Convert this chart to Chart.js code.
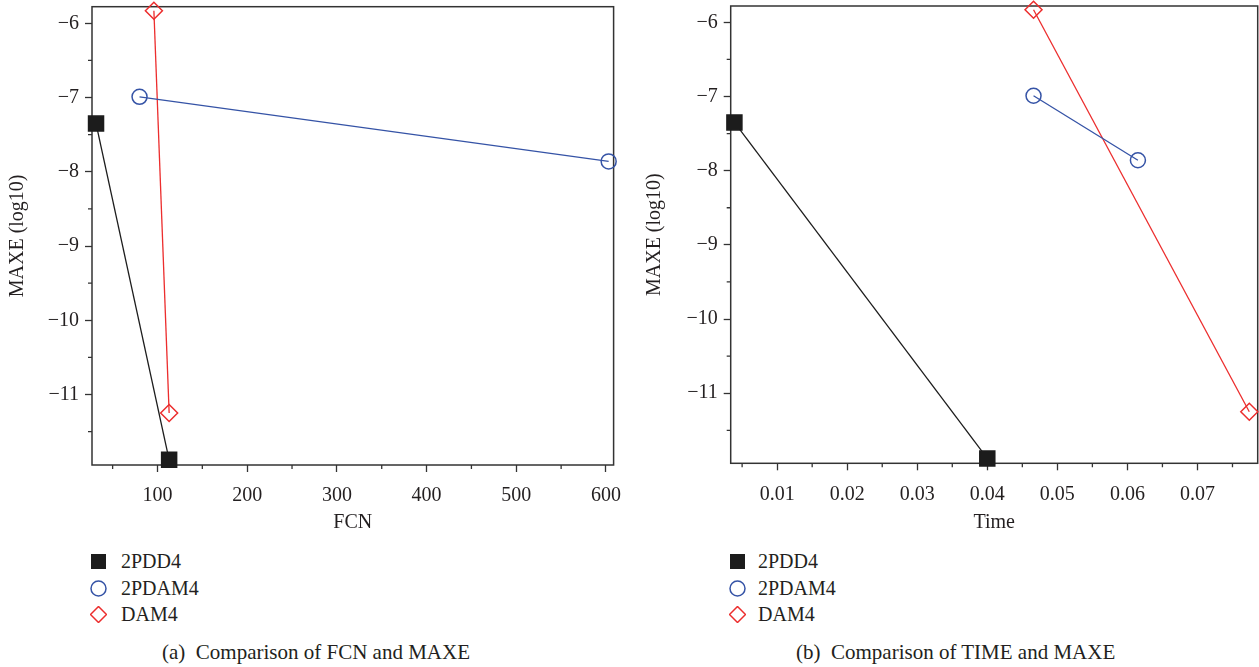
<!DOCTYPE html>
<html><head><meta charset="utf-8">
<script src="https://cdn.jsdelivr.net/npm/chart.js@4"></script>
<style>
html,body{margin:0;padding:0;background:#fff;}
body{width:1259px;height:667px;position:relative;overflow:hidden;font-family:"Liberation Serif",serif;color:#231f20;}
.cv{position:absolute;top:0;}
.legend{position:absolute;top:548px;font-size:20px;}
.legend .row{height:26.7px;display:flex;align-items:center;white-space:nowrap;}
.legend svg{flex:none;}
.caption{position:absolute;top:640px;font-size:21px;line-height:24px;white-space:pre;}
</style></head>
<body>
<div class="cv" style="left:0;width:630px;height:540px;"><canvas id="c1"></canvas></div>
<div class="cv" style="left:630px;width:629px;height:540px;"><canvas id="c2"></canvas></div>
<div class="legend" id="leg1" style="left:90px;"></div>
<div class="legend" id="leg2" style="left:729px;"></div>
<div class="caption" style="left:162px;">(a)  Comparison of FCN and MAXE</div>
<div class="caption" style="left:796px;">(b)  Comparison of TIME and MAXE</div>
<script>
// ---- data ----
const seriesNames = ['2PDD4', '2PDAM4', 'DAM4'];
const fcn2PDD4 = [31.5, 113];
const fcn2PDAM4 = [80, 603];
const fcnDAM4 = [96, 113];
const time2PDD4 = [0.0039, 0.040];
const time2PDAM4 = [0.0466, 0.0615];
const timeDAM4 = [0.0466, 0.0774];
const maxe2PDD4 = [-7.35, -11.88];
const maxe2PDAM4 = [-6.99, -7.86];
const maxeDAM4 = [-5.83, -11.25];
const yTickValues = [-11, -10, -9, -8, -7, -6];
const yTickLabels = ['\u221211', '\u221210', '\u22129', '\u22128', '\u22127', '\u22126'];
const yMinorTicks = [-11.5, -10.5, -9.5, -8.5, -7.5, -6.5];
const fcnTickValues = [100, 200, 300, 400, 500, 600];
const fcnTickLabels = ['100', '200', '300', '400', '500', '600'];
const fcnMinorTicks = [50, 150, 250, 350, 450, 550];
const timeTickValues = [0.01, 0.02, 0.03, 0.04, 0.05, 0.06, 0.07];
const timeTickLabels = ['0.01', '0.02', '0.03', '0.04', '0.05', '0.06', '0.07'];
const timeMinorTicks = [0.005, 0.015, 0.025, 0.035, 0.045, 0.055, 0.065, 0.075];

// ---- style ----
const colors = ['#1c1c1c', '#3553a6', '#ec2d2d'];
const markers = ['rect', 'circle', 'rectRot'];
const radii = [10.6, 7.5, 8.5];
const FONT = {family: '"Liberation Serif", serif', size: 20};
const TXT = '#231f20';
const AX = '#333333';

function dataset(i, xs, ys) {
  return {
    label: seriesNames[i],
    data: xs.map((x, k) => ({x: x, y: ys[k]})),
    showLine: true,
    borderColor: colors[i],
    borderWidth: 1.3,
    backgroundColor: colors[i],
    pointStyle: markers[i],
    pointRadius: radii[i],
    pointBackgroundColor: i === 0 ? colors[i] : 'rgba(0,0,0,0)',
    pointBorderColor: colors[i],
    pointBorderWidth: 1.5,
    clip: false,
    tension: 0
  };
}

const frameAndMinor = {
  id: 'frameAndMinor',
  beforeDatasetsDraw(chart, args, opts) {
    const ctx = chart.ctx, a = chart.chartArea;
    ctx.save();
    ctx.strokeStyle = AX;
    ctx.lineWidth = 1.5;
    ctx.strokeRect(a.left, a.top, a.right - a.left, a.bottom - a.top);
    ctx.lineWidth = 1.3;
    ctx.beginPath();
    (opts.x || []).forEach(v => {
      const px = chart.scales.x.getPixelForValue(v);
      ctx.moveTo(px, a.bottom); ctx.lineTo(px, a.bottom + 4);
    });
    (opts.y || []).forEach(v => {
      const py = chart.scales.y.getPixelForValue(v);
      ctx.moveTo(a.left, py); ctx.lineTo(a.left - 4, py);
    });
    ctx.stroke();
    ctx.restore();
  }
};

function makeChart(id, cfg) {
  return new Chart(document.getElementById(id), {
    type: 'scatter',
    data: {datasets: cfg.datasets},
    plugins: [frameAndMinor],
    options: {
      responsive: true,
      maintainAspectRatio: false,
      animation: false,
      events: [],
      layout: {padding: cfg.padding, autoPadding: false},
      plugins: {
        legend: {display: false},
        tooltip: {enabled: false},
        frameAndMinor: {x: cfg.xMinor, y: yMinorTicks}
      },
      scales: {
        x: {
          type: 'linear', min: cfg.xMin, max: cfg.xMax,
          afterBuildTicks: s => { s.ticks = cfg.xTicks.map(v => ({value: v})); },
          afterFit: s => { s.height = cfg.xHeight; s.paddingLeft = 0; s.paddingRight = 0; },
          ticks: {callback: (v, i) => cfg.xLabels[i], font: FONT, color: TXT, padding: 12, maxRotation: 0, autoSkip: false},
          grid: {drawOnChartArea: false, drawTicks: true, tickLength: 7, tickColor: AX, tickWidth: 1.3},
          border: {display: false},
          title: {display: true, text: cfg.xTitle, font: FONT, color: TXT, padding: {top: 4, bottom: 4}}
        },
        y: {
          type: 'linear', min: cfg.yMin, max: cfg.yMax,
          afterBuildTicks: s => { s.ticks = yTickValues.map(v => ({value: v})); },
          afterFit: s => { s.width = cfg.yWidth; s.paddingTop = 0; s.paddingBottom = 0; },
          ticks: {callback: (v, i) => yTickLabels[i], font: FONT, color: TXT, padding: 6, autoSkip: false},
          grid: {drawOnChartArea: false, drawTicks: true, tickLength: 7, tickColor: AX, tickWidth: 1.3},
          border: {display: false},
          title: {display: true, text: 'MAXE (log10)', font: FONT, color: TXT, padding: {top: 4, bottom: 4}}
        }
      }
    }
  });
}

makeChart('c1', {
  datasets: [dataset(0, fcn2PDD4, maxe2PDD4), dataset(1, fcn2PDAM4, maxe2PDAM4), dataset(2, fcnDAM4, maxeDAM4)],
  padding: {left: 2, right: 16.4, top: 6.7, bottom: 1},
  xMin: 27, xMax: 608.5, xTicks: fcnTickValues, xLabels: fcnTickLabels, xMinor: fcnMinorTicks,
  xTitle: 'FCN', xHeight: 540 - 1 - 465, yWidth: 90,
  yMin: -11.95, yMax: -5.776
});
makeChart('c2', {
  datasets: [dataset(0, time2PDD4, maxe2PDD4), dataset(1, time2PDAM4, maxe2PDAM4), dataset(2, timeDAM4, maxeDAM4)],
  padding: {left: 9, right: 1.3, top: 6, bottom: 1},
  xMin: 0.00337, xMax: 0.0786, xTicks: timeTickValues, xLabels: timeTickLabels, xMinor: timeMinorTicks,
  xTitle: 'Time', xHeight: 540 - 1 - 463.3, yWidth: 91.7,
  yMin: -11.945, yMax: -5.78
});

// ---- legends (HTML) ----
function markerSvg(i) {
  const c = colors[i];
  let shape;
  if (i === 0) shape = '<rect x="1" y="1" width="15" height="15" fill="' + c + '"/>';
  else if (i === 1) shape = '<circle cx="8.5" cy="8.5" r="7.5" fill="none" stroke="' + c + '" stroke-width="1.5"/>';
  else shape = '<polygon points="8.5,0.5 16.5,8.5 8.5,16.5 0.5,8.5" fill="none" stroke="' + c + '" stroke-width="1.5"/>';
  return '<svg width="17" height="17" viewBox="0 0 17 17">' + shape + '</svg>';
}
['leg1', 'leg2'].forEach((id, k) => {
  const el = document.getElementById(id);
  el.innerHTML = seriesNames.map((n, i) =>
    '<div class="row">' + markerSvg(i) + '<span style="margin-left:' + (k === 0 ? 14 : 12) + 'px">' + n + '</span></div>').join('');
});
</script>
</body></html>
